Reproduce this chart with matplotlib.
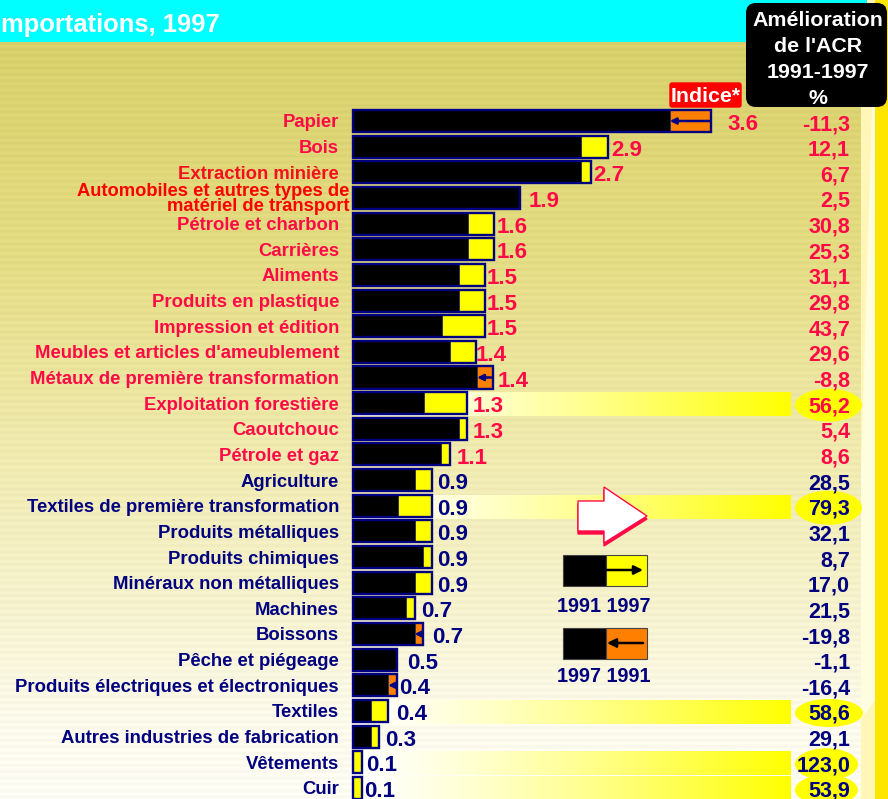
import numpy as np
import matplotlib
matplotlib.use('Agg')
import matplotlib.pyplot as plt
from matplotlib.patches import Ellipse, FancyBboxPatch, Polygon, Rectangle

plt.rcParams['font.family'] = ['Liberation Sans', 'DejaVu Sans']
plt.rcParams['font.weight'] = 'bold'

# secteurs, du haut vers le bas
secteurs = ['Papier', 'Bois', 'Extraction minière',
            'Automobiles et autres types de\nmatériel de transport',
            'Pétrole et charbon', 'Carrières', 'Aliments', 'Produits en plastique',
            'Impression et édition', "Meubles et articles d'ameublement",
            'Métaux de première transformation', 'Exploitation forestière', 'Caoutchouc',
            'Pétrole et gaz', 'Agriculture', 'Textiles de première transformation',
            'Produits métalliques', 'Produits chimiques', 'Minéraux non métalliques',
            'Machines', 'Boissons', 'Pêche et piégeage',
            'Produits électriques et électroniques', 'Textiles',
            'Autres industries de fabrication', 'Vêtements', 'Cuir']
indice_1991 = [4.07, 2.59, 2.59, 1.9, 1.31, 1.31, 1.2, 1.2, 1.01, 1.1, 1.59, 0.81, 1.2, 1.0,
               0.7, 0.51, 0.7, 0.8, 0.7, 0.6, 0.8, 0.5, 0.5, 0.2, 0.2, 0.0, 0.0]
indice_1997 = [3.6, 2.9, 2.7, 1.9, 1.6, 1.6, 1.5, 1.5, 1.5, 1.4, 1.41, 1.3, 1.3, 1.1,
               0.9, 0.9, 0.9, 0.9, 0.9, 0.7, 0.7, 0.5, 0.4, 0.4, 0.3, 0.1, 0.1]
indice_txt = ['3.6', '2.9', '2.7', '1.9', '1.6', '1.6', '1.5', '1.5', '1.5', '1.4', '1.4', '1.3',
              '1.3', '1.1', '0.9', '0.9', '0.9', '0.9', '0.9', '0.7', '0.7', '0.5', '0.4', '0.4',
              '0.3', '0.1', '0.1']
acr_txt = ['-11,3', '12,1', '6,7', '2,5', '30,8', '25,3', '31,1', '29,8', '43,7', '29,6', '-8,8',
           '56,2', '5,4', '8,6', '28,5', '79,3', '32,1', '8,7', '17,0', '21,5', '-19,8', '-1,1',
           '-16,4', '58,6', '29,1', '123,0', '53,9']
# position gauche des etiquettes d'indice (pixels)
indice_x = [727, 611, 593, 529, 497, 497, 487, 487, 487, 476, 498, 473, 473, 457,
            437, 437, 437, 437, 437, 421, 432, 407, 399, 396, 385, 366, 364]
surlignes = [11, 15, 23, 25, 26]
ell_w = [67, 67, 68, 63, 63]
ell_h = [33, 34, 28, 32, 30]

ROUGE = '#ff0a46'
MARINE = '#000080'
W, H = 888, 799
PX = 88.0     # pixels par unite d'indice
X0 = 353.0
ROW0, DROW = 121.0, 25.65

fig = plt.figure(figsize=(W / 100, H / 100), dpi=100)

# fond, en pixels
bg = fig.add_axes([0, 0, 1, 1], zorder=0)
bg.axis('off')
yy = np.arange(H)
stops_y = [42, 250, 450, 600, 720, 799]
stops_c = np.array([[216, 208, 106], [228, 220, 130], [240, 234, 175],
                    [246, 242, 205], [252, 250, 235], [254, 253, 245]])
grad = np.zeros((H, 1, 3))
for i in range(3):
    grad[:, 0, i] = np.interp(yy, stops_y, stops_c[:, i]) / 255
grad = np.clip(grad + 0.012 * np.sin(yy * 1.0)[:, None, None], 0, 1)
bg.imshow(grad, extent=(0, 861, H, 0), aspect='auto', zorder=0)
bg.add_patch(Rectangle((861, 0), 14, H, fc='#fff6b8', ec='none', zorder=1))
bg.add_patch(Polygon([[874, 42], [875, 42], [875, 700], [861, 720], [861, 470]], fc='#fffde0', ec='none', zorder=1))
bg.add_patch(Rectangle((875, 0), 13, H, fc='#ffe600', ec='none', zorder=1))
bg.add_patch(Rectangle((0, 0), 867, 42, fc='#00ffff', ec='none', zorder=2))
bg.text(-6, 25, 'importations, 1997', color='white', fontsize=18.4, va='center', ha='left', zorder=3)

# bandes surlignees
band = np.linspace(0, 1, 256)[None, :, None]
band_img = np.concatenate([np.ones_like(band), np.ones_like(band), 1 - band ** 1.3], axis=2)
for r, ew, eh in zip(surlignes, ell_w, ell_h):
    yc = ROW0 + DROW * r + 1
    bg.imshow(band_img, extent=(X0, 790, yc + 12, yc - 12), aspect='auto', zorder=3)
    bg.add_patch(Ellipse((795 + ew / 2, yc + 1), ew, eh, fc='#ffff00', ec='none', zorder=4))
bg.set_xlim(0, W)
bg.set_ylim(H, 0)

# barres
ax = fig.add_axes([0, 0, 1, 1], zorder=1)
ax.patch.set_alpha(0)
ax.set_xlim(-X0 / PX, (W - X0) / PX)
ax.set_ylim((H - ROW0) / DROW, -ROW0 / DROW)
ax.axis('off')
rows = np.arange(len(secteurs))
debut = np.array(indice_1991)
fin = np.array(indice_1997)
bout = np.maximum(debut, fin)
noir = np.minimum(debut, fin)
couleurs = ['#ff8000' if a > b else '#ffff00' for a, b in zip(debut, fin)]
ax.barh(rows, bout, height=0.86, color='black', zorder=2)
ax.barh(rows, bout - noir, left=noir, height=0.86, color=couleurs, edgecolor='#333355', linewidth=0.7, zorder=3)
ax.barh(rows, bout, height=0.86, color='none', edgecolor=MARINE, linewidth=1.7, zorder=4)

dy = 2 / DROW
for r in rows:
    coul = ROUGE if r < 14 else MARINE
    txt = secteurs[r]
    if '\n' in txt:
        ax.text(-4 / PX, r + 0.05, txt, ha='right', va='center', color='#ff0000', fontsize=13.2, linespacing=0.85)
    else:
        ax.text(-14 / PX, r + dy, txt, ha='right', va='center', fontsize=13.3,
                color='#f5101e' if r == 2 else coul)
    ax.text((indice_x[r] - X0) / PX, r + 0.1 + dy / 2, indice_txt[r], ha='left', va='center', color=coul, fontsize=16)
    ax.text((850 - X0) / PX, r + 0.06 + dy, acr_txt[r], ha='right', va='center', color=coul, fontsize=15.5, zorder=6)
    if debut[r] > fin[r]:
        ax.annotate('', xy=(noir[r], r), xytext=(bout[r] - 0.02, r), zorder=5,
                    arrowprops=dict(arrowstyle='-|>', color=MARINE, lw=1.8, mutation_scale=9,
                                    shrinkA=0, shrinkB=0))

# decor, en pixels
top = fig.add_axes([0, 0, 1, 1], zorder=2)
top.patch.set_alpha(0)
top.set_xlim(0, W)
top.set_ylim(H, 0)
top.axis('off')
top.add_patch(FancyBboxPatch((746, 3), 141, 104, boxstyle='round,pad=0,rounding_size=10',
                             fc='black', ec='none'))
for y, s in zip([21, 47, 72, 98], ['Amélioration', "de l'ACR", '1991-1997', '%']):
    top.text(818, y, s, color='white', ha='center', va='center', fontsize=15.4)
top.add_patch(FancyBboxPatch((670, 83), 71, 24, boxstyle='round,pad=0,rounding_size=2', fc='#ff0000', ec='#ff0000', lw=1))
top.text(706, 96, 'Indice*', color='white', ha='center', va='center', fontsize=15.4)

# grosse fleche
pts = np.array([[578, 501], [604, 501], [604, 487], [647, 516], [604, 543], [604, 531], [578, 531]])
top.add_patch(Polygon(pts + [0, 3], fc=ROUGE, ec=ROUGE, lw=1))
top.add_patch(Polygon(pts, fc='white', ec=ROUGE, lw=1))

# legende
for y0, c, x1, x2, lab, yl in [(555, '#ffff00', 606, 643, '1991 1997', 606),
                               (628, '#ff8000', 643, 607, '1997 1991', 677)]:
    top.add_patch(Rectangle((563, y0), 43, 31, fc='black', ec='#444444', lw=0.8))
    top.add_patch(Rectangle((606, y0), 41, 31, fc=c, ec='#444444', lw=0.8))
    top.annotate('', xy=(x2, y0 + 15), xytext=(x1, y0 + 15),
                 arrowprops=dict(arrowstyle='-|>', color='black', lw=1.8, mutation_scale=13, shrinkA=0, shrinkB=0))
    top.text(604, yl, lab, color=MARINE, ha='center', va='center', fontsize=14.2)

fig.savefig('out.png', dpi=100)
